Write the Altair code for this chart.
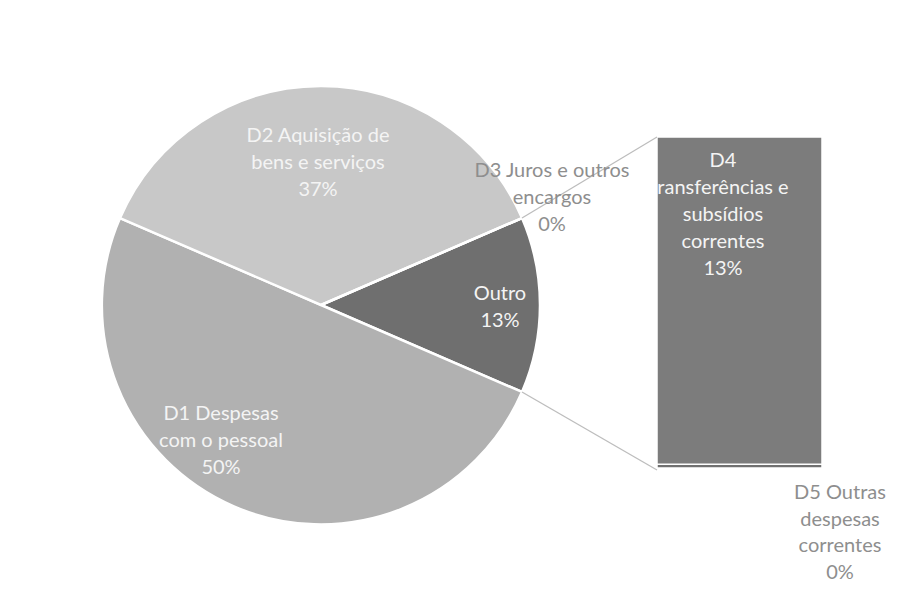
import math
import altair as alt
import pandas as pd

# ---------------- data ----------------
pie_categories = ["Outro", "D1 Despesas com o pessoal",
                  "D2 Aquisição de bens e serviços", "D3 Juros e outros encargos"]
pie_values = [13.0, 50.0, 37.0, 0.0]

bar_categories = ["D5 Outras despesas correntes",
                  "D4 Transferências e subsídios correntes"]
bar_values = [0.15, 12.85]

# label lines as printed on the chart
label_D2 = ["D2 Aquisição de", "bens e serviços", "37%"]
label_D3 = ["D3 Juros e outros", "encargos", "0%"]
label_D1 = ["D1 Despesas", "com o pessoal", "50%"]
label_Outro = ["Outro", "13%"]
label_D4 = ["D4", "ransferências e", "subsídios", "correntes", "13%"]
label_D5 = ["D5 Outras", "despesas", "correntes", "0%"]

# ---------------- layout ----------------
W, H = 883, 576
CX, CY, R = 313, 297, 219
BAR_X0, BAR_X1 = 649, 814
BAR_TOP, BAR_BOT = 129, 460
FONT = "Lato"
FS = 20
LH = 27

pie_colors = ["#6f6f6f", "#b1b1b1", "#c8c8c8", "#d9d9d9"]
bar_colors = ["#707070", "#7c7c7c"]

total_pie = sum(pie_values)
outro_frac = pie_values[0] / total_pie
start = math.pi / 2 - outro_frac * math.pi  # Outro centred on 3 o'clock

pie_df = pd.DataFrame({"cat": pie_categories, "value": pie_values,
                       "ord": list(range(len(pie_categories)))})

pie = alt.Chart(pie_df).mark_arc(radius=R, stroke="white", strokeWidth=2.5).encode(
    theta=alt.Theta("value:Q", stack=True,
                    scale=alt.Scale(domain=[0, total_pie], range=[start, start + 2 * math.pi])),
    order=alt.Order("ord:Q"),
    color=alt.Color("cat:N", scale=alt.Scale(domain=pie_categories, range=pie_colors), legend=None),
    x=alt.value(CX), y=alt.value(CY),
)

# stacked bar (D5 at bottom)
total_bar = sum(bar_values)
y0, y1 = [], []
acc = 0.0
for v in bar_values:
    y0.append(acc)
    acc += v
    y1.append(acc)
bar_df = pd.DataFrame({"cat": bar_categories, "y0": y0, "y1": y1})
bar = alt.Chart(bar_df).mark_rect(stroke="white", strokeWidth=1.5).encode(
    x=alt.value(BAR_X0), x2=alt.value(BAR_X1),
    y=alt.Y("y0:Q", scale=alt.Scale(domain=[0, total_bar], range=[BAR_BOT, BAR_TOP]), axis=None),
    y2="y1:Q",
    color=alt.Color("cat:N", scale=alt.Scale(domain=bar_categories, range=bar_colors), legend=None),
)

# connector lines from Outro slice edges to the bar corners
th_a = start
th_b = start + outro_frac * 2 * math.pi
conn_df = pd.DataFrame({
    "x": [CX + R * math.sin(th_a), CX + R * math.sin(th_b)],
    "y": [CY - R * math.cos(th_a), CY - R * math.cos(th_b)],
    "x2": [BAR_X0, BAR_X0],
    "y2": [BAR_TOP, BAR_BOT + 2],
})
conn = alt.Chart(conn_df).mark_rule(color="#bdbdbd", strokeWidth=1.3).encode(
    x=alt.X("x:Q", scale=None), y=alt.Y("y:Q", scale=None),
    x2="x2:Q", y2="y2:Q",
)


def label(lines, x, y, color, lh=LH):
    return alt.Chart(pie_df).mark_text(
        font=FONT, fontSize=FS, lineHeight=lh, align="center", baseline="alphabetic",
        color=color, lineBreak="\n",
    ).encode(x=alt.value(x), y=alt.value(y), text=alt.value("\n".join(lines))).transform_filter(
        alt.datum.ord == 0)


WHITE = "#f4f4f4"
GREY = "#8e8e8e"
labels = [
    label(label_D2, 310, 134, WHITE),
    label(label_D3, 544, 169, GREY),
    label(label_D1, 213, 412, WHITE),
    label(label_Outro, 492, 292, WHITE),
    label(label_D4, 715, 159, WHITE),
    label(label_D5, 832, 491, GREY, 26.5),
]

chart = alt.layer(pie, bar, conn, *labels).resolve_scale(
    x="independent", y="independent", color="independent"
).properties(
    width=W, height=H, padding=0, autosize="none", background="white"
).configure_view(stroke=None)

chart.save("out.html", embed_options={"renderer": "svg", "actions": False})
